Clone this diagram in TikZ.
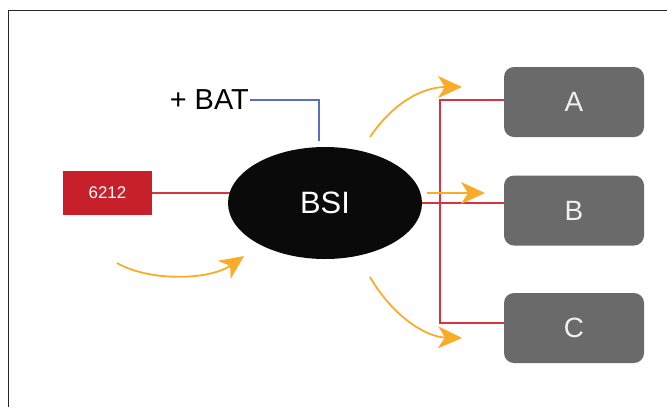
\documentclass[tikz,border=0pt]{standalone}
\usepackage{fontspec}
\setmainfont{Liberation Sans}
\usetikzlibrary{calc, shapes.geometric, arrows.meta, backgrounds}
\definecolor{myred}{RGB}{200, 32, 43}
\definecolor{mywire}{RGB}{214, 52, 64}
\definecolor{myblue}{RGB}{92, 110, 192}
\definecolor{mygray2}{RGB}{106, 106, 106}
\definecolor{myorange}{RGB}{250, 172, 40}
\tikzset{>=latex}

\begin{document}
\begin{tikzpicture}[
    x = 1bp, y = -1bp,
    wire/.style = {mywire, line width = 1.8},
    flow/.style = {myorange, line width = 1.8, -{Stealth[length=24bp, width=22bp, inset=7bp]}},
    ecu/.style = {ellipse, fill = black!96, text = white, minimum width = 194bp, minimum height = 112bp, inner sep = 0, font = \fontsize{31}{33}\selectfont},
    unit/.style = {rectangle, rounded corners = 10bp, fill = mygray2, text = white!94!black, minimum width = 140bp, minimum height = 70bp, font = \fontsize{28}{30}\selectfont}
]

\useasboundingbox (0,0) rectangle (667,407);
\draw[line width = 1.2, black!85] (667,10.5) -| (8.5,407);

\node[ecu] (bsi) at (325,203) {BSI};
\node[rectangle, fill = myred, text = white, minimum width = 89bp, minimum height = 44bp, font = \fontsize{17}{18}\selectfont] (code) at (107.5,193) {6212};
\node[anchor = east, inner sep = 1bp, font = \fontsize{29}{31}\selectfont] (bat) at (250,100) {+ BAT};

\node[unit] (a) at (574,102) {A};
\node[unit] (b) at (574,210.5) {B};
\node[unit] (c) at (574,328) {C};

\begin{scope}[on background layer]
\draw[wire] (code.east) -- (code.east -| bsi);
\draw[wire] (bsi.east) -- (bsi.east -| b.west);
\end{scope}
\draw[wire] ([yshift=2bp]a.west) -- ++(-64,0) coordinate (bus) |- ([yshift=5bp]c.west);
\draw[myblue, line width = 1.6] (bat.east) -| ([xshift=-6bp, yshift=6bp]bsi.north);

% signal flow
\coordinate (in0) at (117,263);
\coordinate (in1) at (244,256);
\draw[flow] (in0) .. controls (150,282) and (210,280) .. (in1);
\coordinate (up0) at (370,137);
\coordinate (up1) at (462,87);
\draw[flow] (up0) .. controls (395,100) and (425,87) .. (up1);
\coordinate (mid0) at (427,193);
\coordinate (mid1) at (485,193);
\draw[flow] (mid0) -- (mid1);
\coordinate (dn0) at (370,277);
\coordinate (dn1) at (462,338);
\draw[flow] (dn0) .. controls (392,315) and (425,337) .. (dn1);

\end{tikzpicture}
\end{document}
